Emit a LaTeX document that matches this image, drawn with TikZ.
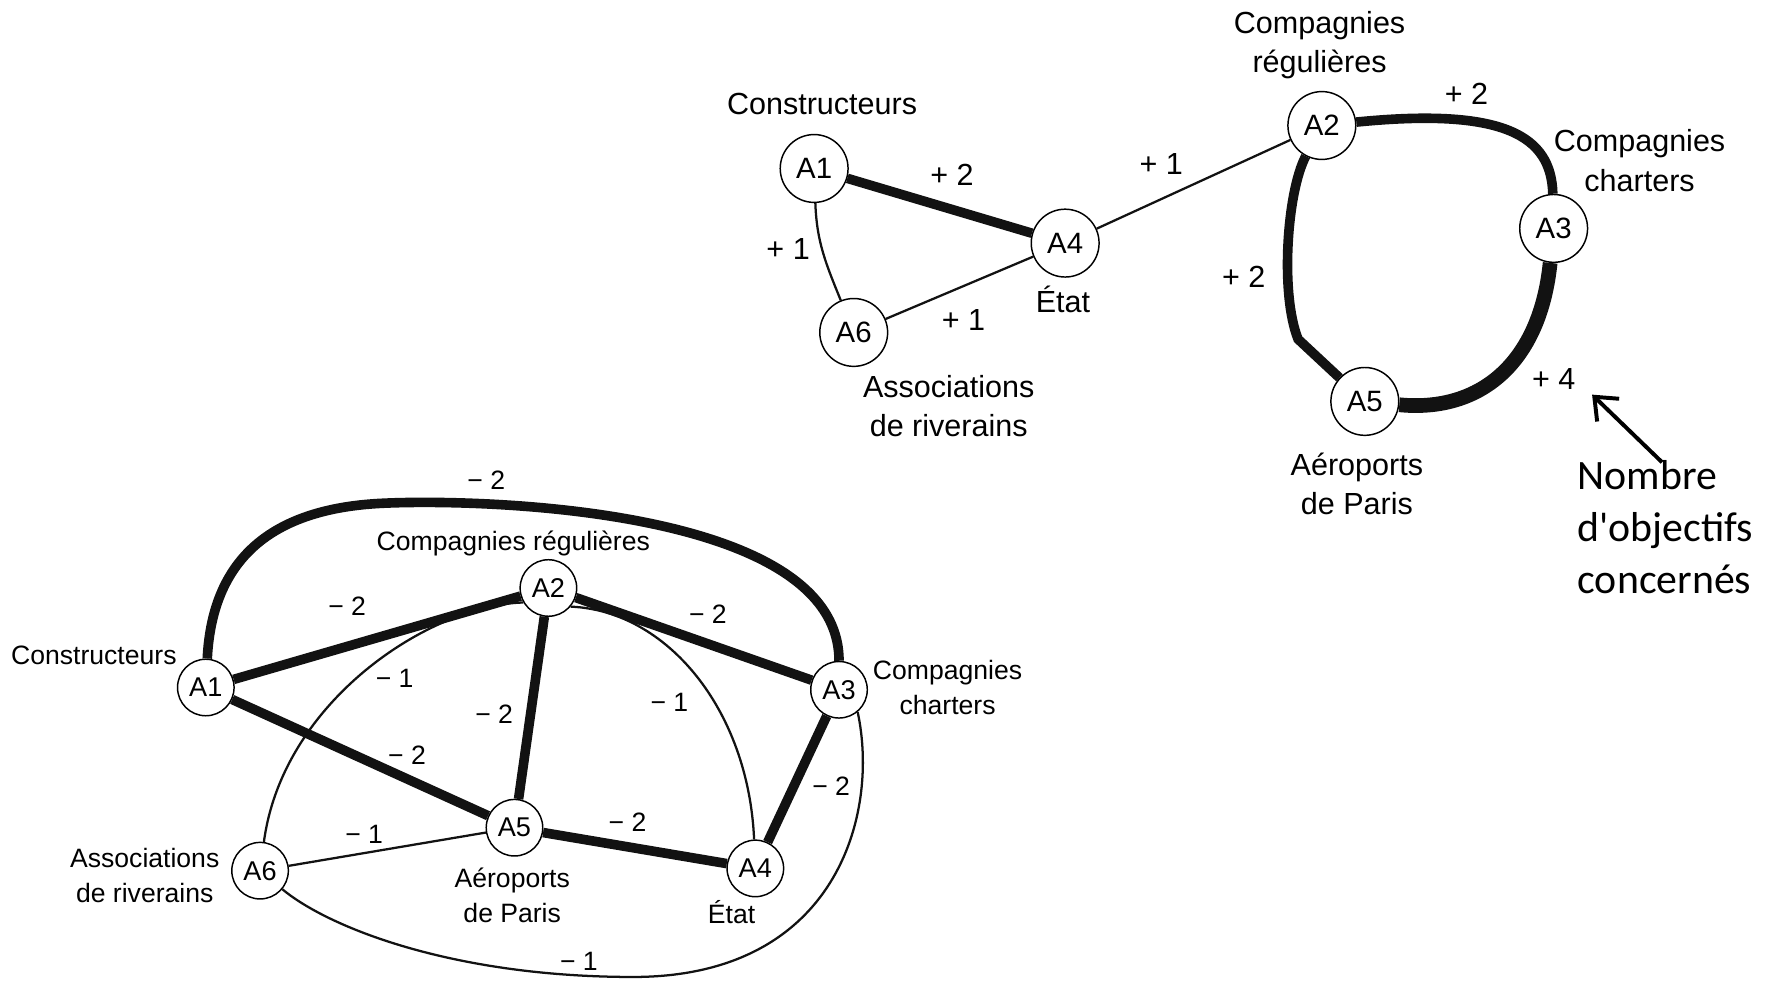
\documentclass[tikz,border=0pt]{standalone}
\usepackage{fontspec}
\setmainfont{Liberation Sans}
\newfontfamily\notefont{Carlito}
\usetikzlibrary{arrows.meta}
\pgfdeclarelayer{edges}
\pgfsetlayers{edges,main}
\begin{document}
\begin{tikzpicture}[x=1pt,y=1pt,
  actor/.style={circle,draw,line width=1.3pt,fill=white,inner sep=0pt,minimum size=#1},
  bigactor/.style={actor=60pt,font=\fontsize{26}{26}\selectfont},
  smallactor/.style={actor=50pt,font=\fontsize{24}{24}\selectfont},
  toplabel/.style={font=\fontsize{27}{35}\selectfont,align=center,inner sep=0pt},
  botlabel/.style={font=\fontsize{23.5}{31}\selectfont,align=center,inner sep=0pt},
  topval/.style={font=\fontsize{27}{27}\selectfont,inner sep=0pt},
  botval/.style={font=\fontsize{23.5}{23.5}\selectfont,inner sep=0pt},
  weak/.style={line width=2pt,draw=black!93},
  strong/.style={line width=8.5pt,draw=black!93},
  strongest/.style={line width=13pt,draw=black!93},
]
\useasboundingbox (0,0) rectangle (1568,-867);

% ---------- convergences (upper graph) ----------
\node[bigactor] (tA1) at (720,-149) {A1};
\node[bigactor] (tA4) at (942,-215) {A4};
\node[bigactor] (tA6) at (755,-294) {A6};
\node[bigactor] (tA2) at (1169,-111) {A2};
\node[bigactor] (tA3) at (1374,-202) {A3};
\node[bigactor] (tA5) at (1207,-355) {A5};

\node[toplabel] (tL1) at (727,-92) {Constructeurs};
\node[toplabel] (tL4) at (940,-265) {État};
\node[toplabel] (tL6) at (839,-359) {Associations\\de riverains};
\node[toplabel] (tL2) at (1167,-40) {Compagnies\\régulières};
\node[toplabel] (tL3) at (1450,-142) {Compagnies\\charters};
\node[toplabel] (tL5) at (1200,-428) {Aéroports\\de Paris};

\node[topval] (tv14) at (842,-155) {+ 2};
\node[topval] (tv42) at (1027,-145) {+ 1};
\node[topval] (tv16) at (697,-220) {+ 1};
\node[topval] (tv64) at (852,-283) {+ 1};
\node[topval] (tv23) at (1297,-83) {+ 2};
\node[topval] (tv25) at (1100,-245) {+ 2};
\node[topval] (tv35) at (1374,-335) {+ 4};

\begin{pgfonlayer}{edges}
  \draw[strong] (tA1) -- (tA4);
  \draw[weak] (tA4) -- (tA2);
  \draw[weak] (tA6) -- (tA4);
  \draw[weak] (tA1) to[out=-88,in=112] (tA6);
  \draw[strong] (tA2) .. controls (1330,-95) and (1372,-120) .. (tA3);
  \draw[strongest] (tA3) .. controls (1362,-320) and (1310,-365) .. (tA5);
  \draw[strong] (tA2) .. controls (1138,-170) and (1132,-260) .. (1148,-300) -- (tA5);
\end{pgfonlayer}

% ---------- annotation ----------
\node[font=\notefont\fontsize{37}{46}\selectfont,align=left,anchor=west,inner sep=0pt]
  (note) at (1395,-466) {Nombre\\d'objectifs\\concernés};
\coordinate (noteTip) at (1408,-349);
\draw[line width=3.5pt,-{Straight Barb[length=17pt,width=28pt,line width=3.5pt]}]
  ([xshift=-3pt,yshift=-2pt]note.north) -- (noteTip);

% ---------- divergences (lower graph) ----------
\node[smallactor] (bA1) at (182,-608) {A1};
\node[smallactor] (bA2) at (485,-520) {A2};
\node[smallactor] (bA3) at (742,-610) {A3};
\node[smallactor] (bA4) at (668,-768) {A4};
\node[smallactor] (bA5) at (455,-732) {A5};
\node[smallactor] (bA6) at (230,-770) {A6};

\node[botlabel] (bL1) at (83,-580) {Constructeurs};
\node[botlabel] (bL2) at (454,-481) {Compagnies régulières};
\node[botlabel] (bL3) at (838,-608) {Compagnies\\charters};
\node[botlabel] (bL6) at (128,-774) {Associations\\de riverains};
\node[botlabel] (bL5) at (453,-792) {Aéroports\\de Paris};
\node[botlabel] (bL4) at (647,-807) {État};

\node[botval] (bv13) at (430,-425) {− 2};
\node[botval] (bv12) at (307,-536) {− 2};
\node[botval] (bv23) at (626,-543) {− 2};
\node[botval] (bv26) at (349,-600) {− 1};
\node[botval] (bv24) at (592,-621) {− 1};
\node[botval] (bv25) at (437,-632) {− 2};
\node[botval] (bv15) at (360,-668) {− 2};
\node[botval] (bv34) at (735,-695) {− 2};
\node[botval] (bv65) at (322,-738) {− 1};
\node[botval] (bv54) at (555,-727) {− 2};
\node[botval] (bv36) at (512,-850) {− 1};

\begin{pgfonlayer}{edges}
  \draw[strong] (bA1) .. controls (188,-490) and (245,-449) .. (340,-445)
                .. controls (430,-441) and (742,-450) .. (bA3);
  \draw[strong] (bA1) -- (bA2);
  \draw[strong] (bA2) -- (bA3);
  \draw[strong] (bA1) -- (bA5);
  \draw[strong] (bA2) -- (bA5);
  \draw[strong] (bA5) -- (bA4);
  \draw[strong] (bA3) -- (bA4);
  \draw[weak] (bA6) -- (bA5);
  \draw[weak] (bA2.210) .. controls (380,-535) and (250,-620) .. (bA6);
  \draw[weak] (bA2.-40) .. controls (590,-540) and (662,-628) .. (bA4);
  \draw[weak] (bA3.-50) .. controls (778,-720) and (740,-864) .. (560,-864)
              .. controls (400,-864) and (290,-820) .. (bA6);
\end{pgfonlayer}
\end{tikzpicture}
\end{document}
